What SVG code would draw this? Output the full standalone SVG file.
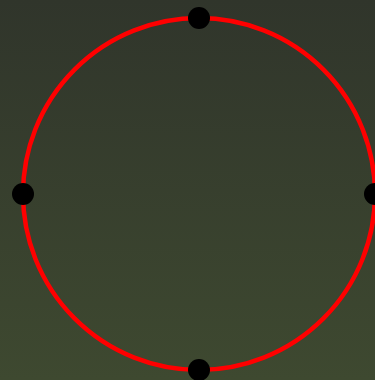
<svg xmlns="http://www.w3.org/2000/svg" width="375" height="380" viewBox="0 0 375 380">
<defs>
<linearGradient id="bg" x1="0" y1="0" x2="0" y2="1">
<stop offset="0" stop-color="#30352b"/>
<stop offset="1" stop-color="#3e4930"/>
</linearGradient>
<style>
.ring{fill:none;stroke:#ff0000;stroke-width:4.5}
.pt{fill:#000000}
</style>
</defs>
<rect width="375" height="380" fill="url(#bg)"/>
<g id="connectors">
<circle class="ring" cx="199" cy="194" r="176"/>
</g>
<g id="top"><circle class="pt" cx="199" cy="18" r="11"/></g>
<g id="left"><circle class="pt" cx="23" cy="194" r="11"/></g>
<g id="right"><circle class="pt" cx="375" cy="194" r="11"/></g>
<g id="bottom"><circle class="pt" cx="199" cy="370" r="11"/></g>
</svg>
